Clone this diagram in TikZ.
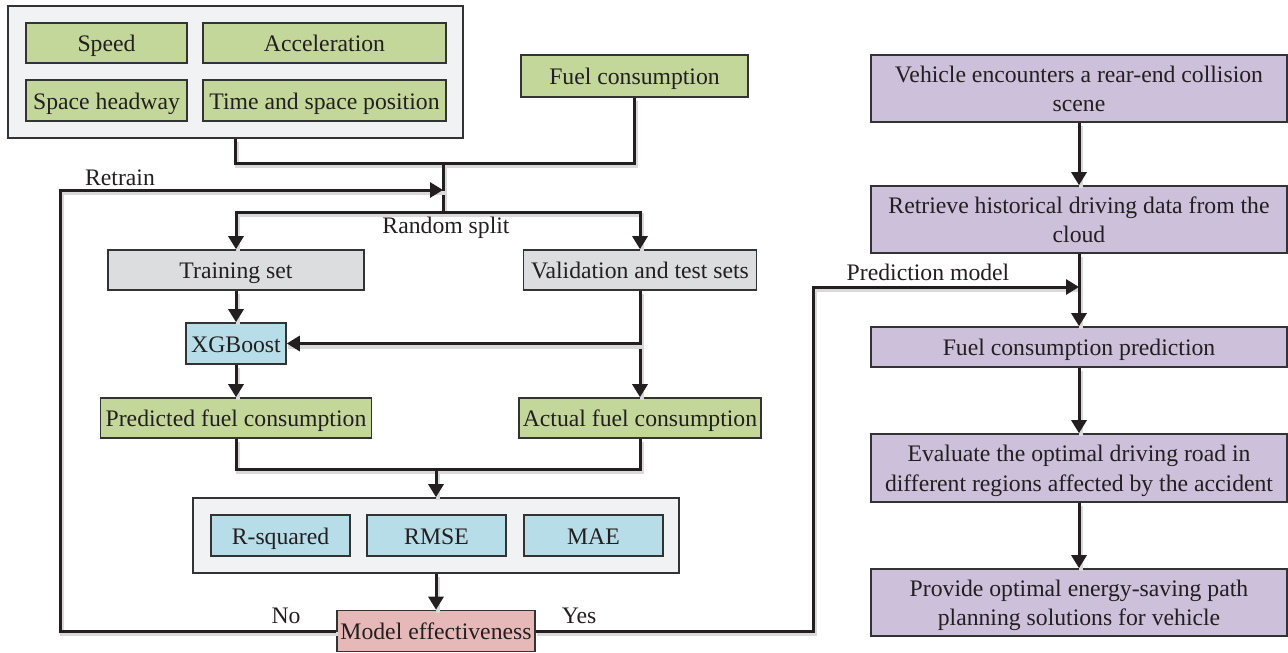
\documentclass[tikz,border=0pt]{standalone}
\usepackage{fontspec}
\setmainfont{Liberation Serif}
\usetikzlibrary{arrows.meta,calc}
\definecolor{grn}{HTML}{C4D79B}
\definecolor{gry}{HTML}{DCDDDF}
\definecolor{blu}{HTML}{B7DDE8}
\definecolor{pnk}{HTML}{E6B9B8}
\definecolor{ppl}{HTML}{CCC0DA}
\definecolor{grpfill}{HTML}{F1F2F4}
\definecolor{bline}{HTML}{333333}
\definecolor{ink}{HTML}{231F20}
\newcommand{\fs}{\fontsize{23.7}{29.5}\selectfont}
\tikzset{
  base/.style={draw=bline, line width=1.6pt, inner sep=0pt, align=center, font=\fs, text=ink,
    text height=19pt, text depth=2pt},
  gbox/.style={base, fill=grn},
  graybox/.style={base, fill=gry},
  bbox/.style={base, fill=blu},
  pbox/.style={base, fill=pnk},
  vbox/.style={base, fill=ppl, minimum width=416pt},
  vbox2/.style={vbox, text height=48.5pt, text depth=2pt},
  grp/.style={base, fill=grpfill},
  ln/.style={draw=ink, line width=3pt,
    preaction={draw=black!15, -, line width=4pt, transform canvas={shift={(1.5pt,-3pt)}}}},
  arr/.style={ln, -{Triangle[length=13pt,width=15pt]}},
  lbl/.style={inner sep=0pt, font=\fs, text=ink}
}
\begin{document}
\begin{tikzpicture}[x=1pt,y=-1pt]
\useasboundingbox (0,0) rectangle (1288,653);
% top-left group
\node[grp, minimum width=455pt, minimum height=132pt] (grp1) at (235.5,72) {};
\node[gbox, minimum width=161pt, minimum height=40pt] (speed) at (106.5,43) {Speed};
\node[gbox, minimum width=243pt, minimum height=40pt] (accel) at (324.5,43) {Acceleration};
\node[gbox, minimum width=161pt, minimum height=41pt] (headway) at (106.5,100.5) {Space headway};
\node[gbox, minimum width=243pt, minimum height=41pt] (timepos) at (324.5,100.5) {Time and space position};
\node[gbox, minimum width=227pt, minimum height=42pt] (fuel) at (634.5,76) {Fuel consumption};
\coordinate (j1) at (443,163);
\coordinate (j2) at (443,212);
\coordinate (rt) at (443,190);
\coordinate (lc) at (60,190);
\coordinate (j3) at (436,469);
\coordinate (ya) at (813,287);
% sets
\node[graybox, minimum width=256pt, minimum height=40pt] (train) at (236,270) {Training set};
\node[graybox, minimum width=233pt, minimum height=40pt] (valid) at (640,270) {Validation and test sets};
\node[bbox, minimum width=100pt, minimum height=41pt] (xgb) at (236,343.5) {XGBoost};
\node[gbox, minimum width=271pt, minimum height=40pt] (pred) at (236,418) {Predicted fuel consumption};
\node[gbox, minimum width=242pt, minimum height=40pt] (actual) at (640,418) {Actual fuel consumption};
% metrics group
\node[grp, minimum width=486pt, minimum height=75pt] (grp2) at (436,535.5) {};
\node[bbox, minimum width=139pt, minimum height=41pt] (rsq) at (280.5,535.5) {R-squared};
\node[bbox, minimum width=139pt, minimum height=41pt] (rmse) at (436.5,535.5) {RMSE};
\node[bbox, minimum width=139pt, minimum height=41pt] (mae) at (593.5,535.5) {MAE};
\node[pbox, minimum width=198pt, minimum height=41pt] (model) at (436,631) {Model effectiveness};
% right column
\node[vbox2, minimum height=67pt] (r1) at (1079,88.5) {Vehicle encounters a rear-end collision\\scene};
\node[vbox2, minimum height=67pt] (r2) at (1079,219.5) {Retrieve historical driving data from the\\cloud};
\node[vbox, minimum height=40pt] (r3) at (1079,347) {Fuel consumption prediction};
\node[vbox2, minimum height=68pt] (r4) at (1079,468) {Evaluate the optimal driving road in\\different regions affected by the accident};
\node[vbox2, minimum height=67pt] (r5) at (1079,602.5) {Provide optimal energy-saving path\\planning solutions for vehicle};
\coordinate (b1) at (valid.south |- xgb.east);
\coordinate (pm) at (r2.south |- ya);
% connectors
\draw[ln] (grp1.south) |- (j1) -| (fuel.south);
\draw[ln] (j1) -- (j2);
\draw[arr] (j2) -| (train.north);
\draw[arr] (j2) -| (valid.north);
\draw[arr] (train.south) -- (xgb.north);
\draw[arr] (valid.south) -- (actual.north);
\draw[arr] (b1) -- (xgb.east);
\draw[arr] (xgb.south) -- (pred.north);
\draw[ln] (pred.south) |- (j3) -| (actual.south);
\draw[arr] (j3) -- (grp2.north);
\draw[arr] (grp2.south) -- (model.north);
\draw[arr] (model.west) -| (lc) -- (rt);
\draw[arr] (model.east) -| (ya) -- (pm);
\draw[arr] (r1) -- (r2);
\draw[arr] (r2) -- (r3);
\draw[arr] (r3) -- (r4);
\draw[arr] (r4) -- (r5);
% labels
\node[lbl] (lretrain) at (120,178) {Retrain};
\node[lbl] (lsplit) at (446,228) {Random split};
\node[lbl] (lpm) at (928,272) {Prediction model};
\node[lbl] (lno) at (286,616) {No};
\node[lbl] (lyes) at (579,616) {Yes};
\end{tikzpicture}
\end{document}
